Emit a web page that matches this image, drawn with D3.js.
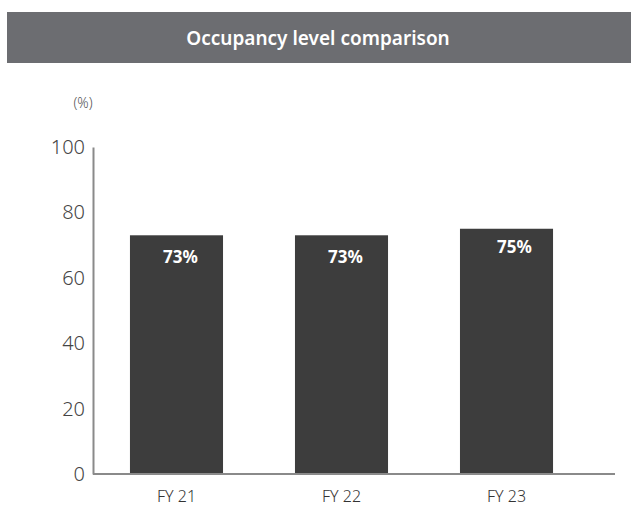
<!DOCTYPE html>
<html lang="en">
<head>
<meta charset="utf-8">
<title>Occupancy level comparison</title>
<script src="https://cdn.jsdelivr.net/npm/d3@7"></script>
<style>
  body { margin: 0; background: #fff; }
  svg text { font-family: "Noto Sans", "Open Sans", sans-serif; }
</style>
</head>
<body>
<script>
// data
var years = ["FY 21", "FY 22", "FY 23"];
var occupancy = [73, 73, 75];
var yTicks = [0, 20, 40, 60, 80, 100];

var w = 631, h = 508;

var svg = d3.select("body").append("svg")
  .attr("width", w)
  .attr("height", h);

// title bar
svg.append("rect")
  .attr("x", 7).attr("y", 12)
  .attr("width", w - 7).attr("height", 51)
  .attr("fill", "#6c6d71");

svg.append("text")
  .attr("x", 318).attr("y", 45)
  .attr("text-anchor", "middle")
  .attr("fill", "#fff")
  .attr("font-size", "19px")
  .attr("font-weight", 600)
  .text("Occupancy level comparison");

var xScale = d3.scaleBand()
  .domain(years)
  .range([93, 590])
  .paddingInner(0.436)
  .paddingOuter(0.224);

var yScale = d3.scaleLinear()
  .domain([0, 100])
  .range([474, 147]);

// bars
svg.selectAll("rect.bar")
  .data(occupancy)
  .enter()
  .append("rect")
  .attr("class", "bar")
  .attr("x", function(d, i) { return xScale(years[i]); })
  .attr("y", function(d) { return yScale(d); })
  .attr("width", xScale.bandwidth())
  .attr("height", function(d) { return yScale(0) - yScale(d); })
  .attr("fill", "#3d3d3d");

// value labels
svg.selectAll("text.val")
  .data(occupancy)
  .enter()
  .append("text")
  .attr("class", "val")
  .attr("x", function(d, i) { return xScale(years[i]) + xScale.bandwidth() / 2 + 4 + (i == 2 ? 4 : 0); })
  .attr("y", function(d, i) { return yScale(d) + (i == 2 ? 24 : 28); })
  .attr("text-anchor", "middle")
  .attr("fill", "#fff")
  .attr("font-size", "17px")
  .attr("font-weight", 700)
  .text(function(d) { return d + "%"; });

// y axis
var yAxis = d3.axisLeft(yScale)
  .tickValues(yTicks)
  .tickSize(0)
  .tickPadding(8);

var gy = svg.append("g")
  .attr("transform", "translate(93,0)")
  .call(yAxis);
gy.select(".domain").attr("stroke", "#8a8a8a").attr("stroke-width", 2);
gy.selectAll("text")
  .attr("font-family", "'Noto Sans', sans-serif")
  .attr("font-weight", 300)
  .attr("font-size", "20px")
  .attr("fill", "#444");

// x axis
var xAxis = d3.axisBottom(xScale)
  .tickSize(0)
  .tickPadding(17);

var gx = svg.append("g")
  .attr("transform", "translate(0,474)")
  .call(xAxis);
gx.select(".domain").attr("d", "M93,0H615").attr("stroke", "#8a8a8a").attr("stroke-width", 2);
gx.selectAll("text")
  .attr("font-family", "'Noto Sans', sans-serif")
  .attr("font-weight", 300)
  .attr("font-size", "16px")
  .attr("fill", "#333");

// unit label
svg.append("text")
  .attr("x", 83).attr("y", 108)
  .attr("text-anchor", "middle")
  .attr("fill", "#555")
  .attr("font-weight", 300)
  .attr("font-size", "14px")
  .text("(%)");
</script>
</body>
</html>
